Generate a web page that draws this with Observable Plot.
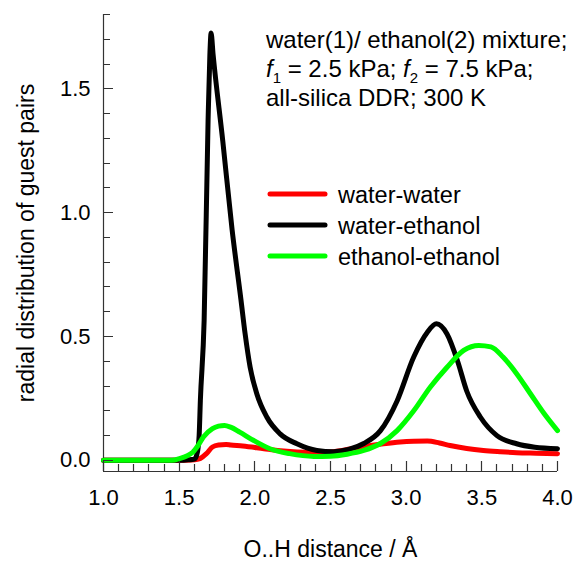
<!DOCTYPE html>
<html><head><meta charset="utf-8">
<script src="https://cdn.jsdelivr.net/npm/d3@7"></script>
<script src="https://cdn.jsdelivr.net/npm/@observablehq/plot@0.6"></script>
<style>
body{margin:0;background:#fff;font-family:"Liberation Sans",Arial,sans-serif;}
#wrap{position:relative;width:577px;height:561px;}
#note{position:absolute;left:266px;top:25px;font-size:24px;line-height:29px;color:#000;white-space:nowrap;}
#note sub{font-size:15px;vertical-align:-6px;line-height:0;}
#legend{position:absolute;left:0;top:0;pointer-events:none;}
</style></head><body><div id="wrap"></div>
<script>
const seriesNames = ["water-water", "water-ethanol", "ethanol-ethanol"];
const seriesColors = ["#ff0000", "#000000", "#00ff00"];

const xWaterWater = [1.0, 1.3, 1.5, 1.58, 1.62, 1.64, 1.68, 1.72, 1.76, 1.81, 1.84, 1.92, 2.06, 2.15, 2.28, 2.40, 2.50, 2.63, 2.74, 2.85, 2.96, 3.05, 3.14, 3.22, 3.29, 3.40, 3.51, 3.62, 3.73, 3.86, 4.0];
const yWaterWater = [0, 0, 0, 0.001, 0.004, 0.008, 0.027, 0.054, 0.062, 0.064, 0.062, 0.058, 0.047, 0.04, 0.034, 0.032, 0.034, 0.046, 0.058, 0.067, 0.074, 0.077, 0.078, 0.07, 0.06, 0.048, 0.04, 0.035, 0.031, 0.029, 0.027];

const xWaterEthanol = [1.0, 1.3, 1.5, 1.56, 1.60, 1.615, 1.625, 1.632, 1.640, 1.665, 1.691, 1.703, 1.711, 1.724, 1.788, 1.85, 1.908, 1.936, 1.969, 2.013, 2.079, 2.167, 2.278, 2.41, 2.52, 2.62, 2.72, 2.83, 2.94, 3.05, 3.14, 3.20, 3.27, 3.34, 3.40, 3.49, 3.60, 3.73, 3.85, 4.0];
const yWaterEthanol = [0, 0, 0, 0.002, 0.005, 0.02, 0.05, 0.1, 0.24, 0.565, 1.37, 1.64, 1.725, 1.64, 1.29, 0.93, 0.65, 0.51, 0.376, 0.269, 0.175, 0.107, 0.067, 0.04, 0.035, 0.044, 0.068, 0.12, 0.24, 0.417, 0.517, 0.551, 0.51, 0.40, 0.28, 0.175, 0.10, 0.067, 0.053, 0.047];

const xEthanolEthanol = [1.0, 1.3, 1.45, 1.506, 1.55, 1.59, 1.625, 1.66, 1.72, 1.76, 1.80, 1.84, 1.90, 1.99, 2.10, 2.23, 2.39, 2.50, 2.61, 2.72, 2.83, 2.94, 3.05, 3.16, 3.27, 3.38, 3.48, 3.56, 3.64, 3.73, 3.82, 3.91, 4.0];
const yEthanolEthanol = [0, 0, 0, 0.008, 0.018, 0.033, 0.06, 0.094, 0.128, 0.138, 0.141, 0.134, 0.114, 0.081, 0.047, 0.027, 0.016, 0.017, 0.025, 0.04, 0.068, 0.12, 0.2, 0.296, 0.376, 0.444, 0.464, 0.458, 0.417, 0.35, 0.27, 0.19, 0.12];

const xTickValues = [1.0, 1.5, 2.0, 2.5, 3.0, 3.5, 4.0];
const yTickValues = [0.0, 0.5, 1.0, 1.5];
const xMinorTicks = [1.0,1.1,1.2,1.3,1.4,1.5,1.6,1.7,1.8,1.9,2.0,2.1,2.2,2.3,2.4,2.5,2.6,2.7,2.8,2.9,3.0,3.1,3.2,3.3,3.4,3.5,3.6,3.7,3.8,3.9,4.0];
const yMinorTicks = [0.0,0.1,0.2,0.3,0.4,0.5,0.6,0.7,0.8,0.9,1.0,1.1,1.2,1.3,1.4,1.5,1.6,1.7,1.8];
const xDomain = [1.0, 4.0];
const yDomain = [-0.045, 1.8];
const xTitle = "O..H distance / Å";
const yTitle = "radial distribution of guest pairs";

const seriesX = [xWaterWater, xWaterEthanol, xEthanolEthanol];
const seriesY = [yWaterWater, yWaterEthanol, yEthanolEthanol];
const rows = seriesNames.flatMap((name, s) => seriesX[s].map((x, i) => ({x, y: seriesY[s][i], series: name})));

const W = 577, H = 561, mL = 103, mR = 20, mT = 14, mB = 90;
const axisColor = "#333";

const chart = Plot.plot({
  width: W, height: H,
  marginLeft: mL, marginRight: mR, marginTop: mT, marginBottom: mB,
  style: {fontFamily: "Liberation Sans, Arial, sans-serif", background: "#fff", color: "#000"},
  x: {domain: xDomain},
  y: {domain: yDomain},
  color: {domain: seriesNames, range: seriesColors},
  marks: [
    Plot.ruleX([xDomain[0]], {stroke: axisColor, strokeWidth: 1.2}),
    Plot.ruleY([yDomain[0]], {stroke: axisColor, strokeWidth: 1.2}),
    Plot.axisX({ticks: xTickValues, tickFormat: d => d.toFixed(1), tickSize: 0, tickPadding: 18, fontSize: 22, label: null}),
    Plot.axisY({ticks: yTickValues, tickFormat: d => d.toFixed(1), tickSize: 0, tickPadding: 13, fontSize: 22, label: null}),
    Plot.text([xTitle], {text: d => d, frameAnchor: "bottom", dy: 85, lineAnchor: "bottom", textAnchor: "middle", fontSize: 23}),
    Plot.text([yTitle], {text: d => d, frameAnchor: "left", dx: -70, rotate: -90, lineAnchor: "bottom", textAnchor: "middle", fontSize: 23}),
    ...seriesNames.map(name => Plot.line(rows.filter(r => r.series === name), {
      x: "x", y: "y", stroke: "series", strokeWidth: 5, curve: "monotone-x",
      strokeLinejoin: "round", strokeLinecap: "round"
    }))
  ]
});

const wrap = document.getElementById("wrap");
wrap.appendChild(chart);

// inward tick marks as one path, positioned through the chart's own scales
const sx = chart.scale("x"), sy = chart.scale("y");
const x0 = sx.apply(xDomain[0]), y0 = sy.apply(yDomain[0]);
const isMajor = (arr, v) => arr.some(t => Math.abs(t - v) < 1e-9);
let d = "";
xMinorTicks.forEach(v => {
  const len = isMajor(xTickValues, v) ? 10 : 7;
  const px = Math.round(sx.apply(v)) + 0.5;
  d += `M${px},${y0}V${y0 - len}`;
});
yMinorTicks.forEach(v => {
  const len = isMajor(yTickValues, v) ? 10 : 7;
  const py = Math.round(sy.apply(v)) + 0.5;
  d += `M${x0},${py}H${x0 + len}`;
});

const ov = d3.create("svg").attr("id", "legend").attr("width", W).attr("height", H)
  .style("font-family", "Liberation Sans, Arial, sans-serif");
ov.append("path").attr("d", d).attr("fill", "none").attr("stroke", axisColor).attr("stroke-width", 1.2);

seriesNames.forEach((name, i) => {
  const y = 194 + i * 31;
  ov.append("line").attr("x1", 270).attr("x2", 325).attr("y1", y).attr("y2", y)
    .attr("stroke", seriesColors[i]).attr("stroke-width", 5).attr("stroke-linecap", "round");
  ov.append("text").attr("x", 338).attr("y", y + 9).attr("font-size", 23.5).attr("fill", "#000").text(name);
});

const note = document.createElement("div");
note.id = "note";
note.innerHTML = "water(1)/ ethanol(2) mixture;<br><i>f</i><sub>1</sub> = 2.5 kPa; <i>f</i><sub>2</sub> = 7.5 kPa;<br>all-silica DDR; 300 K";
wrap.appendChild(note);
wrap.appendChild(ov.node());
</script></body></html>
